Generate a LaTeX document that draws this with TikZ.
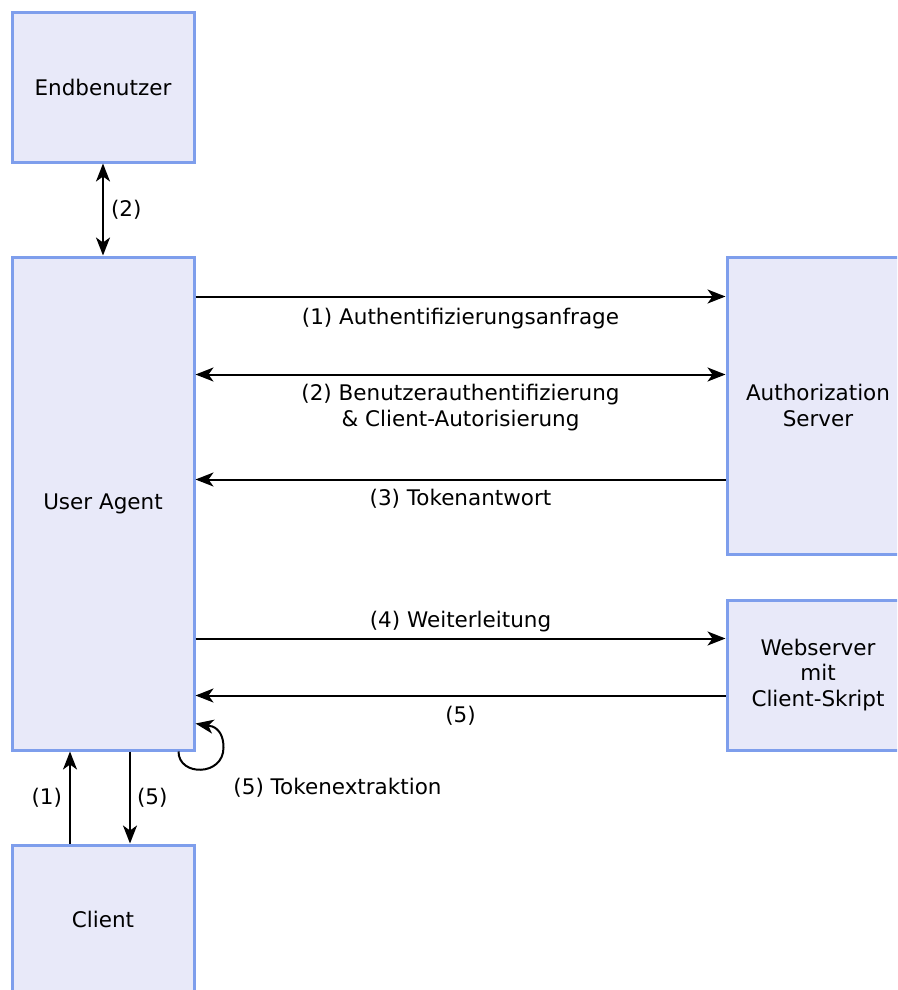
\documentclass[tikz,border=0pt]{standalone}
\usepackage{fontspec}
\setmainfont{DejaVu Sans}
\usetikzlibrary{arrows.meta,calc}
\definecolor{fillc}{RGB}{232,233,249}
\definecolor{bordc}{RGB}{126,158,236}
\newcommand{\fsz}{\fontsize{21.5}{25.5}\selectfont}
\begin{document}
\begin{tikzpicture}[x=1pt,y=-1pt,
  box/.style={draw=bordc,fill=fillc,line width=3pt,rectangle,inner sep=0pt,font=\fsz,align=center,minimum width=182pt},
  arr/.style={line width=2pt,-{Stealth[length=18pt,width=14pt,inset=5pt]}},
  darr/.style={line width=2pt,{Stealth[length=18pt,width=14pt,inset=5pt]}-{Stealth[length=18pt,width=14pt,inset=5pt]}},
  lbl/.style={font=\fsz,align=center,inner sep=0pt}]
\useasboundingbox (0,0) rectangle (897,990);
\clip (0,0) rectangle (897,990);

\node[box,minimum height=149pt] (end) at (103,87.5) {Endbenutzer};
\node[box,minimum height=493pt] (ua) at (103,503.5) {User Agent};
\node[box,minimum height=148pt] (cl) at (103,919) {Client};
\node[box,minimum height=297pt] (as) at (818,405.5) {Authorization\\Server};
\node[box,minimum height=150pt] (ws) at (818,675) {Webserver\\mit\\Client-Skript};

\draw[darr] (end.south) -- (ua.north) node[lbl,midway,anchor=west,xshift=7pt] {(2)};

\draw[arr] ($(ua.north east)+(0,41)$) -- ($(as.north west)+(0,41)$)
  node[lbl,midway,yshift=-22pt] {(1) Authentifizierungsanfrage};
\draw[darr] ($(ua.north east)+(0,119)$) -- ($(as.north west)+(0,119)$)
  node[lbl,midway,yshift=-33pt] {(2) Benutzerauthentifizierung\\\& Client-Autorisierung};
\draw[arr] ($(as.north west)+(0,224)$) -- ($(ua.north east)+(0,224)$)
  node[lbl,midway,yshift=-19pt] {(3) Tokenantwort};
\draw[arr] ($(ua.north east)+(0,383)$) -- ($(ws.north west)+(0,40)$)
  node[lbl,midway,yshift=17pt] {(4) Weiterleitung};
\draw[arr] ($(ws.north west)+(0,97)$) -- ($(ua.north east)+(0,440)$)
  node[lbl,midway,yshift=-20pt] {(5)};

\draw[arr] ($(ua.south east)+(-17,0)$) .. controls ($(ua.south east)+(-17,25)$) and ($(ua.south east)+(28,25)$) .. ($(ua.south east)+(28,-4)$)
  .. controls ($(ua.south east)+(28,-15)$) and ($(ua.south east)+(24,-22)$) .. ($(ua.south east)+(17,-25)$)
  -- ($(ua.south east)+(0,-28)$);
\node[lbl] (tx) at ($(ua.south east)+(142,36)$) {(5) Tokenextraktion};

\draw[arr] ($(cl.north)+(-33,0)$) -- ($(ua.south)+(-33,0)$)
  node[lbl,midway,anchor=east,xshift=-7pt] {(1)};
\draw[arr] ($(ua.south)+(27,0)$) -- ($(cl.north)+(27,0)$)
  node[lbl,midway,anchor=west,xshift=6pt] {(5)};
\end{tikzpicture}
\end{document}
